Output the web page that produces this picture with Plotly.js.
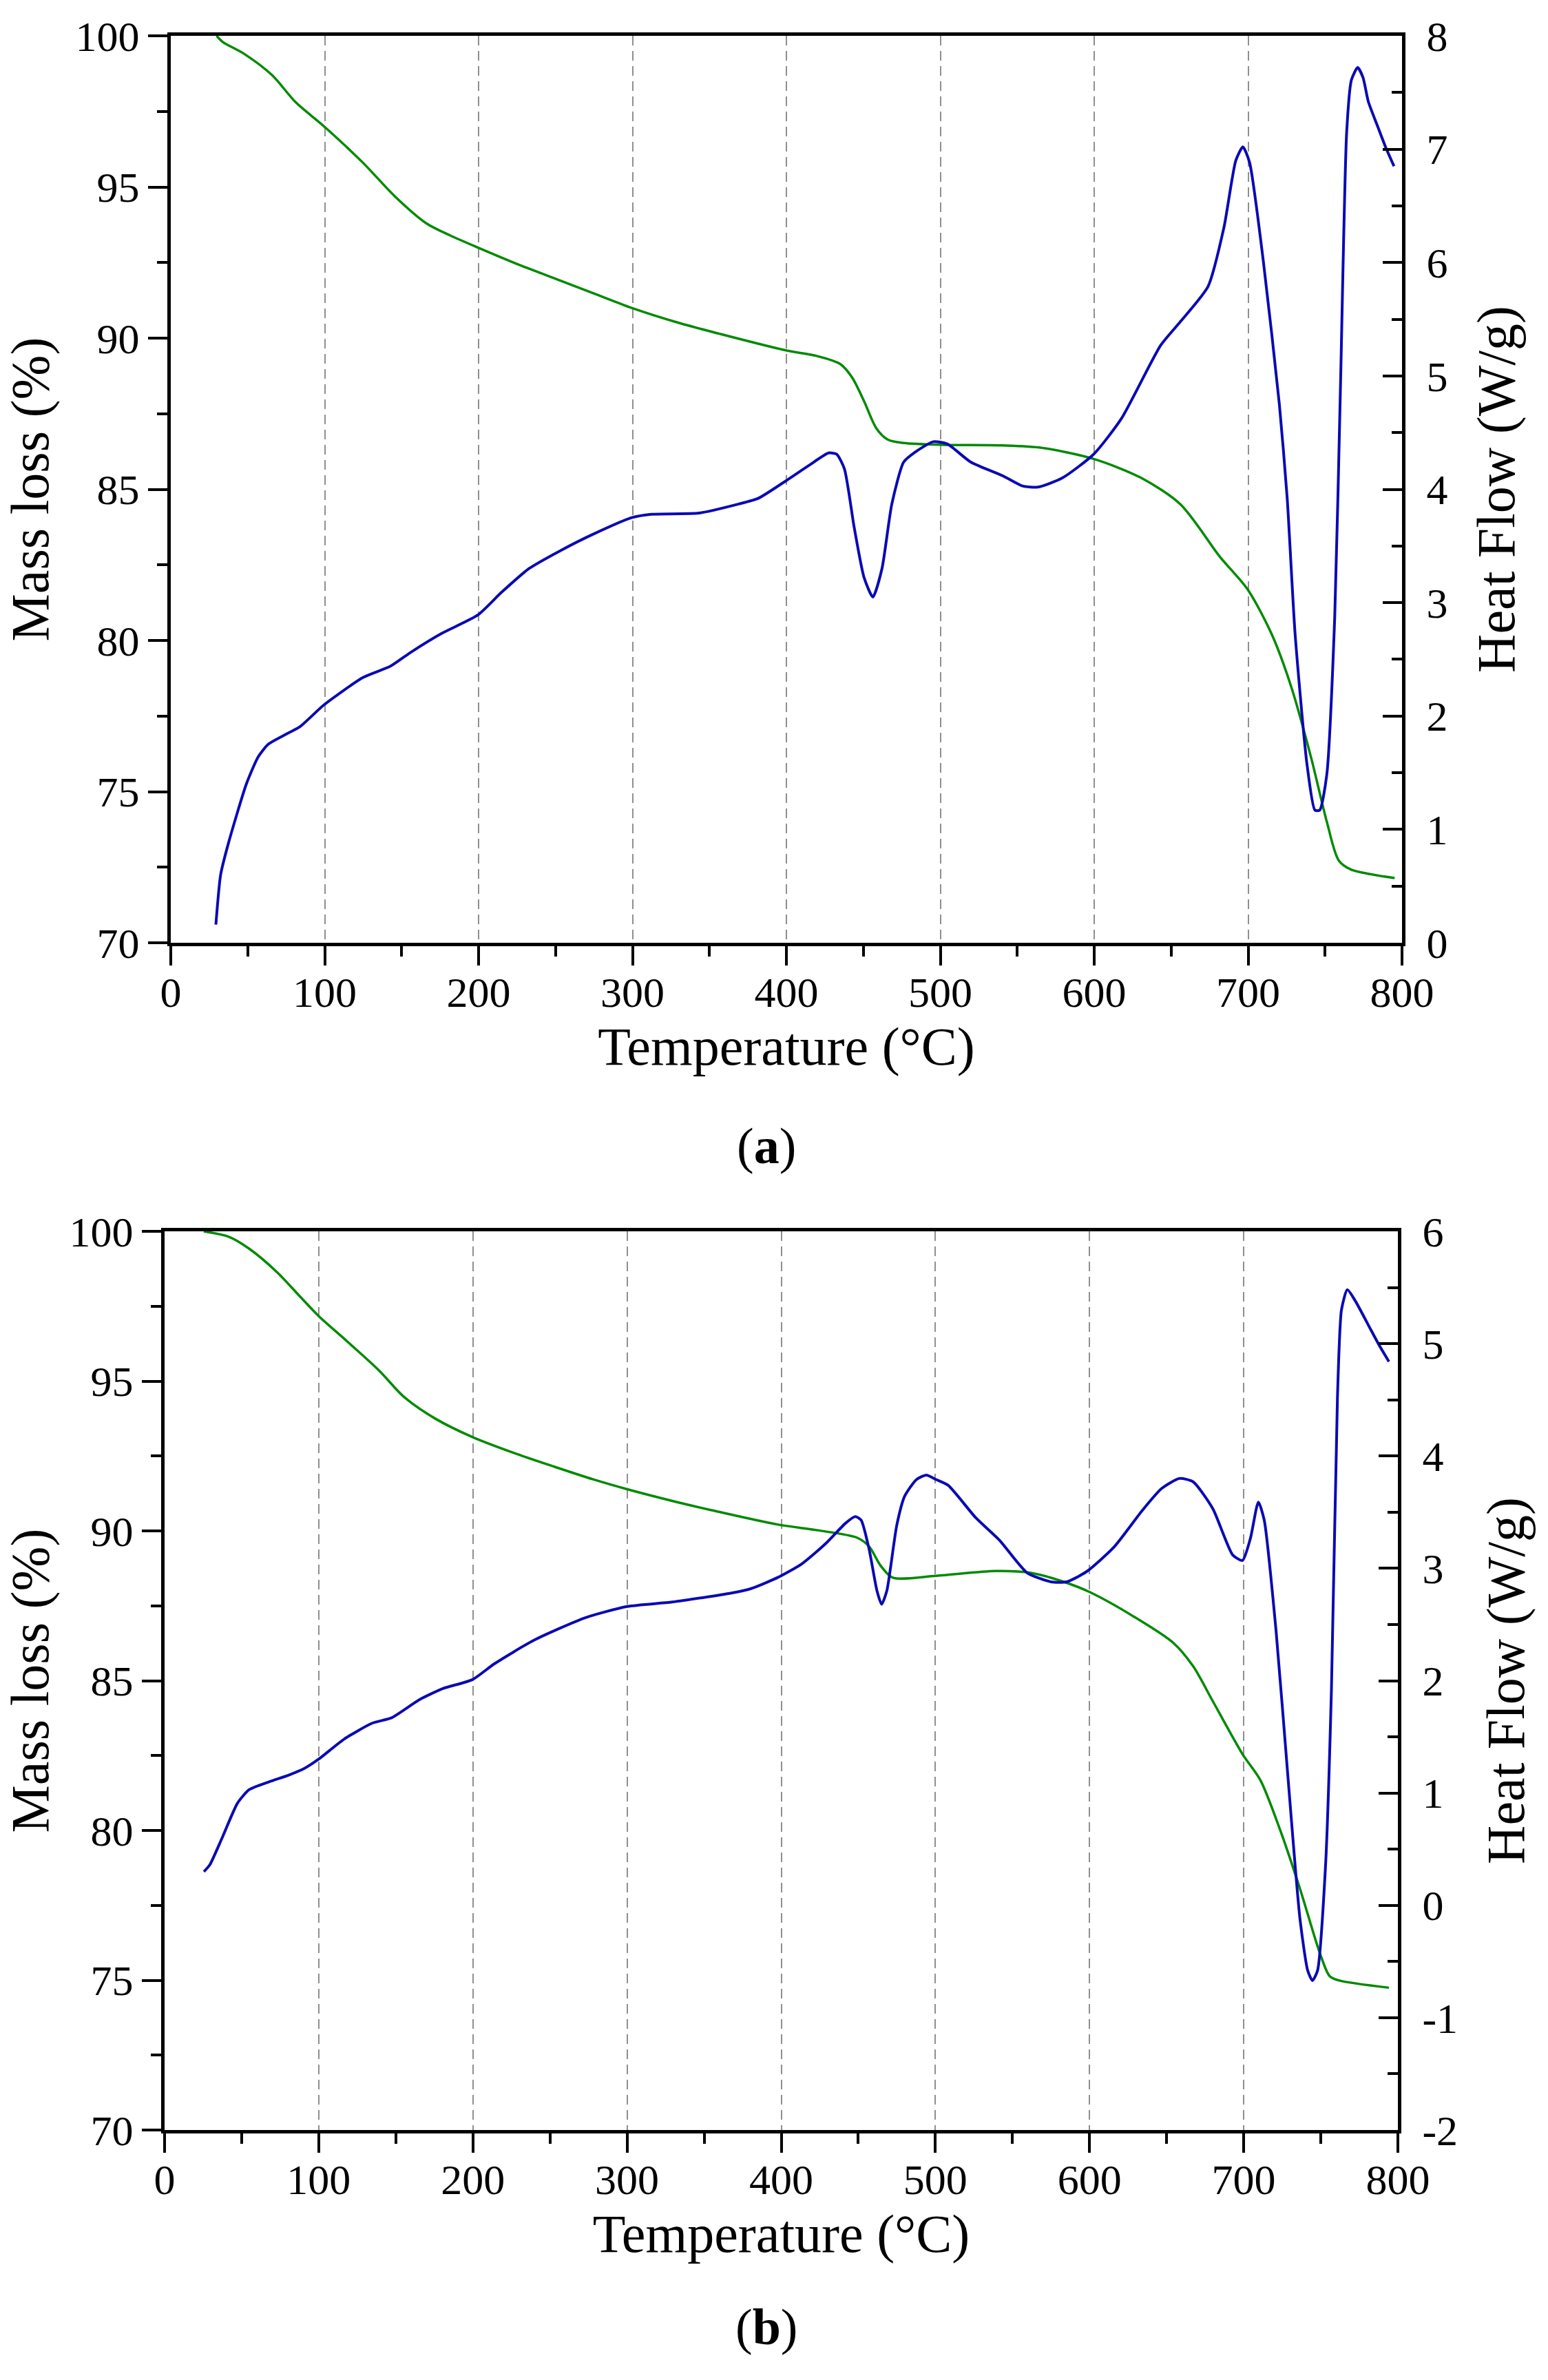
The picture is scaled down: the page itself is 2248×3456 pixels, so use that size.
<!DOCTYPE html>
<html>
<head>
<meta charset="utf-8">
<script src="https://cdn.plot.ly/plotly-3.0.1.min.js"></script>
<style>html,body{margin:0;padding:0;background:#fff;}#chart{width:2248px;height:3456px;}</style>
</head>
<body>
<div id="chart"></div>
<script>
// ---------- Panel (a) ----------
const tempA_mass = [29.8, 33.7, 47.8, 65.8, 81.2, 99.7, 124.9, 145.4, 166, 181.4, 199.4, 227.6, 253.3, 279, 299.5, 330.4, 356, 399.2, 419.7, 435.1, 442.8, 450.5, 458.3, 466, 476.2, 502, 540.5, 566.2, 600, 630.4, 656.1, 681.8, 699.8, 715.2, 728, 740.9, 751.2, 758.8, 766.6, 795.2];
const massA = [100, 99.8, 99.4, 98.7, 97.8, 97.0, 95.8, 94.7, 93.8, 93.4, 93.0, 92.4, 91.9, 91.4, 91.0, 90.5, 90.15, 89.6, 89.41, 89.14, 88.69, 87.91, 87.03, 86.64, 86.53, 86.47, 86.45, 86.37, 86.0, 85.38, 84.5, 82.76, 81.68, 80.22, 78.47, 76.13, 73.99, 72.73, 72.43, 72.14];
const tempA_heat = [29.3, 32.4, 37.5, 49.1, 56.8, 63.2, 73.5, 83.8, 99.7, 124.9, 142.8, 155.7, 176.2, 199.4, 214.8, 232.7, 253.3, 273.8, 299.5, 312.4, 343.2, 369, 381.7, 399.2, 414.6, 427.4, 432.6, 437.7, 444.1, 450.5, 456.2, 462.1, 468.5, 476.2, 483.9, 495.5, 504.5, 519.8, 540.4, 553.3, 563.5, 579.3, 599.7, 617.5, 643.2, 656.1, 674, 684.3, 692, 696.6, 701, 710, 720.3, 725.4, 730.5, 738.2, 743.4, 746.5, 751.1, 756.3, 760.1, 764, 767.1, 771.2, 774.7, 778.1, 784.5, 789.6, 794.8];
const heatA = [0.16, 0.60, 0.88, 1.40, 1.64, 1.75, 1.83, 1.905, 2.10, 2.34, 2.44, 2.56, 2.73, 2.89, 3.09, 3.30, 3.46, 3.60, 3.75, 3.78, 3.79, 3.87, 3.92, 4.07, 4.21, 4.32, 4.31, 4.18, 3.66, 3.22, 3.05, 3.30, 3.87, 4.24, 4.33, 4.42, 4.40, 4.24, 4.12, 4.03, 4.02, 4.10, 4.31, 4.62, 5.27, 5.48, 5.79, 6.31, 6.90, 7.02, 6.88, 6.00, 4.75, 3.92, 2.73, 1.58, 1.17, 1.17, 1.48, 2.88, 4.96, 7.14, 7.61, 7.72, 7.63, 7.42, 7.19, 7.01, 6.85];

// ---------- Panel (b) ----------
const tempB_mass = [25.4, 42.1, 54.9, 72.9, 88.3, 99.8, 119, 139.6, 154.9, 175.5, 199.8, 226.7, 252.4, 278, 300.1, 329.3, 354.9, 398, 423.6, 449.3, 457, 464.6, 472.3, 500.5, 538.9, 562, 582.6, 600, 628.7, 654.4, 667.2, 680, 699.2, 710.8, 723.6, 736.4, 749.3, 755.7, 762.1, 794.2];
const massB = [100, 99.81, 99.42, 98.64, 97.80, 97.18, 96.30, 95.33, 94.49, 93.75, 93.13, 92.60, 92.15, 91.72, 91.39, 91.00, 90.69, 90.21, 90.02, 89.77, 89.48, 88.83, 88.44, 88.50, 88.66, 88.60, 88.31, 87.96, 87.14, 86.26, 85.48, 84.31, 82.55, 81.68, 80.02, 78.07, 75.92, 75.14, 74.99, 74.75];
const tempB_heat = [25.5, 29.3, 37, 47.3, 54.9, 67.8, 80.6, 90.8, 99.8, 116.5, 134.4, 147.3, 165.2, 180.6, 199.8, 213.9, 239.6, 272.9, 300.1, 329.3, 367.7, 380.5, 398, 413.4, 428.8, 441.6, 448, 451.8, 457, 462.1, 465.1, 468.5, 474.9, 480, 487.7, 494.1, 500.5, 508.2, 526.2, 541.6, 559.5, 574.9, 585.2, 598, 615.9, 633.9, 646.7, 658.3, 667.2, 680, 692.8, 699.2, 704.4, 709.5, 713.3, 721, 728.7, 736.4, 741.5, 744.6, 747.9, 753.1, 756.9, 760.8, 763.4, 767.2, 772.4, 782.6, 787.7, 794.2];
const heatB = [0.30, 0.36, 0.59, 0.91, 1.03, 1.10, 1.16, 1.22, 1.30, 1.48, 1.62, 1.67, 1.83, 1.93, 2.01, 2.15, 2.36, 2.56, 2.66, 2.70, 2.78, 2.82, 2.92, 3.04, 3.22, 3.40, 3.46, 3.43, 3.17, 2.80, 2.68, 2.80, 3.38, 3.64, 3.79, 3.83, 3.79, 3.74, 3.45, 3.25, 2.96, 2.88, 2.88, 2.97, 3.19, 3.51, 3.71, 3.80, 3.77, 3.53, 3.12, 3.07, 3.27, 3.59, 3.43, 2.44, 1.14, -0.11, -0.58, -0.67, -0.58, 0.36, 1.92, 4.52, 5.30, 5.48, 5.38, 5.12, 4.99, 4.84];

// axis ticks / labels
const tempTicks = [0, 100, 200, 300, 400, 500, 600, 700, 800];
const massTicks = [70, 75, 80, 85, 90, 95, 100];
const heatTicksA = [0, 1, 2, 3, 4, 5, 6, 7, 8];
const heatTicksB = [-2, -1, 0, 1, 2, 3, 4, 5, 6];
const panelLabels = ['(<b>a</b>)', '(<b>b</b>)'];
const titles = {x: 'Temperature (°C)', yl: 'Mass loss (%)', yr: 'Heat Flow (W/g)'};

const FONT = "'Palatino Linotype', 'Book Antiqua', Palatino, 'Liberation Serif', 'DejaVu Serif', serif";
const GREEN = '#008a00';
const BLUE = '#0a0ab4';
const W = 2248, H = 3456;

function px(x) { return x / W; }
function py(y) { return 1 - y / H; }

const lineBase = {type: 'scatter', mode: 'lines', hoverinfo: 'skip', showlegend: false};
const traces = [
  Object.assign({}, lineBase, {x: tempA_mass, y: massA, xaxis: 'x', yaxis: 'y', line: {color: GREEN, width: 3.5, shape: 'spline', smoothing: 0.8}}),
  Object.assign({}, lineBase, {x: tempA_heat, y: heatA, xaxis: 'x', yaxis: 'y2', line: {color: BLUE, width: 4, shape: 'spline', smoothing: 0.6}}),
  Object.assign({}, lineBase, {x: tempB_mass, y: massB, xaxis: 'x2', yaxis: 'y3', line: {color: GREEN, width: 3.5, shape: 'spline', smoothing: 0.8}}),
  Object.assign({}, lineBase, {x: tempB_heat, y: heatB, xaxis: 'x2', yaxis: 'y4', line: {color: BLUE, width: 4, shape: 'spline', smoothing: 0.6}})
];

const tickFont = {family: FONT, size: 62, color: '#000'};
const titleFont = {family: FONT, size: 78, color: '#000'};

function xAxis(domain, anchor) {
  return {
    domain: domain, anchor: anchor, range: [0, 800], tickvals: tempTicks, ticktext: tempTicks.map(String),
    ticks: 'outside', ticklen: 28, tickwidth: 4, tickcolor: '#000',
    minor: {dtick: 50, tick0: 0, ticks: 'outside', ticklen: 15, tickwidth: 4, tickcolor: '#000', showgrid: false},
    showline: true, linecolor: '#000', linewidth: 5, mirror: true,
    showgrid: true, gridcolor: '#8f8f8f', gridwidth: 2, griddash: '14px,8px',
    zeroline: false, tickfont: tickFont, ticklabelstandoff: -14,
    title: {text: titles.x, font: titleFont, standoff: 18}, fixedrange: true
  };
}
function yLeft(domain, anchor) {
  return {
    domain: domain, anchor: anchor, range: [70, 100], tickvals: massTicks, ticktext: massTicks.map(String),
    ticks: 'outside', ticklen: 28, tickwidth: 4, tickcolor: '#000',
    minor: {dtick: 2.5, tick0: 70, ticks: 'outside', ticklen: 15, tickwidth: 4, tickcolor: '#000', showgrid: false},
    showline: true, linecolor: '#000', linewidth: 5, mirror: false,
    showgrid: false, zeroline: false, tickfont: tickFont, ticklabelstandoff: 0,
    title: {text: titles.yl, font: titleFont, standoff: 26}, fixedrange: true
  };
}
function yRight(overlay, anchor, range, vals, minorStart) {
  return {
    overlaying: overlay, anchor: anchor, side: 'right', range: range, tickvals: vals, ticktext: vals.map(String),
    ticks: 'inside', ticklen: 28, tickwidth: 4, tickcolor: '#000',
    minor: {dtick: 0.5, tick0: minorStart, ticks: 'inside', ticklen: 15, tickwidth: 4, tickcolor: '#000', showgrid: false},
    showline: true, linecolor: '#000', linewidth: 5,
    showgrid: false, zeroline: false, tickfont: tickFont, ticklabelstandoff: 18,
    title: {text: titles.yr, font: titleFont, standoff: 44}, fixedrange: true
  };
}

const layout = {
  width: W, height: H, margin: {l: 0, r: 0, t: 0, b: 0},
  paper_bgcolor: '#fff', plot_bgcolor: '#fff', showlegend: false,
  font: {family: FONT, color: '#000'},
  xaxis: xAxis([px(248), px(2036)], 'y'),
  yaxis: yLeft([py(1369), py(52)], 'x'),
  yaxis2: yRight('y', 'x', [0, 8], heatTicksA, 0),
  xaxis2: xAxis([px(239), px(2030)], 'y3'),
  yaxis3: yLeft([py(3093), py(1788)], 'x2'),
  yaxis4: yRight('y3', 'x2', [-2, 6], heatTicksB, -2),
  annotations: [
    {text: panelLabels[0], xref: 'paper', yref: 'paper', x: px(1113), y: py(1664), xanchor: 'center', yanchor: 'middle', showarrow: false, font: {family: FONT, size: 74, color: '#000'}},
    {text: panelLabels[1], xref: 'paper', yref: 'paper', x: px(1113), y: py(3379), xanchor: 'center', yanchor: 'middle', showarrow: false, font: {family: FONT, size: 74, color: '#000'}}
  ]
};

Plotly.newPlot('chart', traces, layout, {staticPlot: true, displayModeBar: false});
</script>
</body>
</html>
